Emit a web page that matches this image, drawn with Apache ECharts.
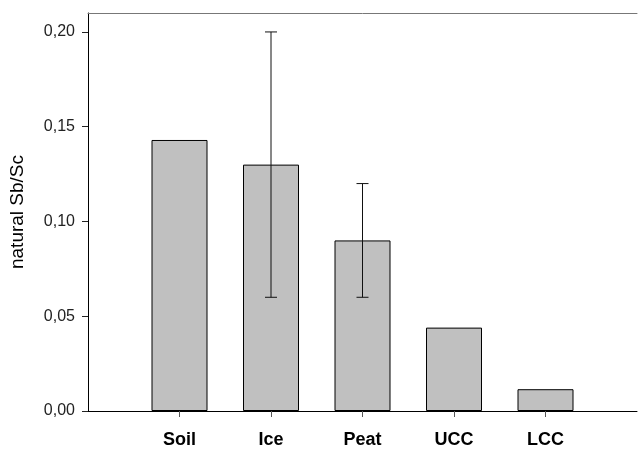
<!DOCTYPE html>
<html>
<head>
<meta charset="utf-8">
<script src="https://cdn.jsdelivr.net/npm/echarts@6/dist/echarts.min.js"></script>
<style>html,body{margin:0;padding:0;background:#fff}#c{width:640px;height:449px}</style>
</head>
<body>
<div id="c"></div>
<script>
const categories = ['Soil', 'Ice', 'Peat', 'UCC', 'LCC'];
const values = [0.143, 0.130, 0.090, 0.044, 0.0115];
const errLow = [null, 0.060, 0.060, null, null];
const errHigh = [null, 0.200, 0.120, null, null];
const yTicks = [0, 0.05, 0.10, 0.15, 0.20];

// padded category slots so the axis starts/ends one slot beyond the bars
const slots = [''].concat(categories, ['']);
const barData = categories.map((c, i) => [i + 1, values[i]]);
const errData = [];
categories.forEach((c, i) => {
  if (errLow[i] != null) errData.push([i + 1, errLow[i], errHigh[i]]);
});

const chart = echarts.init(document.getElementById('c'));
chart.setOption({
  animation: false,
  grid: { left: 86, right: 0, top: 13, bottom: 36, containLabel: false },
  xAxis: [{
    type: 'category',
    data: slots,
    boundaryGap: false,
    axisLine: { lineStyle: { color: '#000', width: 1 } },
    axisTick: { length: 6, interval: (i, v) => v !== '', lineStyle: { color: '#555' } },
    axisLabel: { interval: 0, margin: 20, color: '#000', fontFamily: 'Liberation Sans, Arial, sans-serif', fontSize: 18, fontWeight: 'bold' },
    splitLine: { show: false }
  }, {
    type: 'category',
    data: slots,
    position: 'top',
    boundaryGap: false,
    axisLine: { lineStyle: { color: '#777', width: 1 } },
    axisTick: { show: false },
    axisLabel: { show: false },
    splitLine: { show: false }
  }],
  yAxis: {
    type: 'value',
    min: 0,
    max: 0.21,
    name: 'natural Sb/Sc',
    nameLocation: 'middle',
    nameGap: 61,
    nameTextStyle: { color: '#000', fontFamily: 'Liberation Sans, Arial, sans-serif', fontSize: 19 },
    axisLine: { show: true, lineStyle: { color: '#000', width: 1 } },
    axisTick: { show: true, length: 6, customValues: yTicks, lineStyle: { color: '#222' } },
    axisLabel: {
      customValues: yTicks,
      margin: 13,
      color: '#222',
      fontFamily: 'Liberation Sans, Arial, sans-serif',
      fontSize: 16,
      formatter: v => v.toFixed(2).replace('.', ',')
    },
    splitLine: { show: false }
  },
  series: [{
    type: 'bar',
    data: barData,
    barWidth: 56,
    itemStyle: { color: '#c0c0c0', borderColor: '#000', borderWidth: 1 }
  }, {
    type: 'custom',
    data: errData,
    z: 10,
    renderItem: (params, api) => {
      const x = api.value(0);
      const lo = api.coord([x, api.value(1)]);
      const hi = api.coord([x, api.value(2)]);
      const cap = 6;
      const style = { stroke: '#111', lineWidth: 1 };
      return {
        type: 'group',
        children: [
          { type: 'line', shape: { x1: hi[0], y1: hi[1], x2: lo[0], y2: lo[1] }, style },
          { type: 'line', shape: { x1: hi[0] - cap, y1: hi[1], x2: hi[0] + cap, y2: hi[1] }, style },
          { type: 'line', shape: { x1: lo[0] - cap, y1: lo[1], x2: lo[0] + cap, y2: lo[1] }, style }
        ]
      };
    }
  }]
});
</script>
</body>
</html>
